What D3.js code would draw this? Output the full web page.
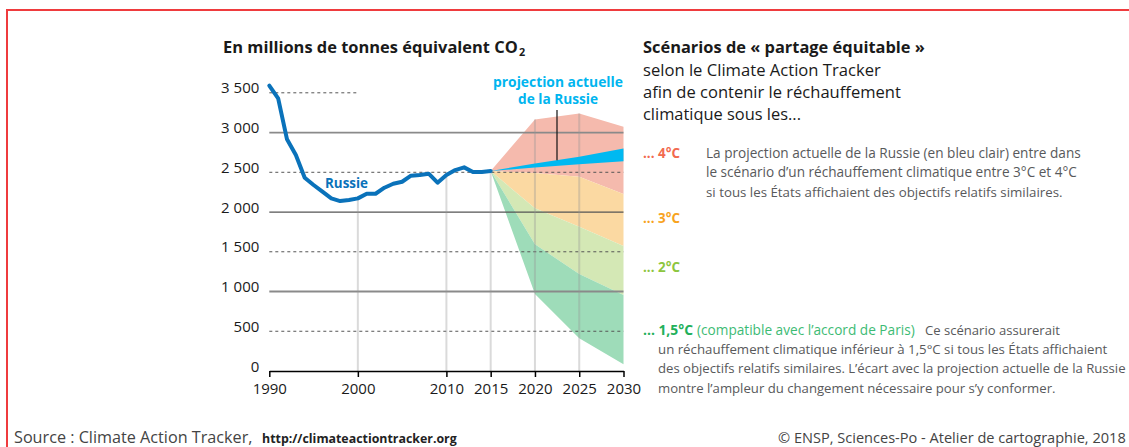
<!DOCTYPE html>
<html><head><meta charset="utf-8">
<script src="https://cdn.jsdelivr.net/npm/d3@7"></script>
<style>body{margin:0;background:#fff}svg{display:block}text{font-family:"Open Sans",sans-serif}</style>
</head><body>
<svg id="c" width="1129" height="447"></svg>
<script>
// ---- data ----
const histYears = [1990,1991,1992,1993,1994,1995,1996,1997,1998,1999,2000,2001,2002,2003,2004,2005,2006,2007,2008,2009,2010,2011,2012,2013,2014,2015];
const histValues = [3590,3430,2915,2717,2432,2340,2256,2172,2138,2151,2172,2230,2230,2306,2356,2381,2457,2465,2482,2369,2465,2528,2562,2503,2503,2516];
const projYears = [2015,2020,2025,2030];
const projLow  = [2516,2560,2600,2640];
const projHigh = [2516,2610,2695,2800];
const scen4Top   = [2516,3165,3241,3073];
const scen3Top   = [2516,2490,2444,2226];
const scen2Top   = [2516,2046,1815,1572];
const scen15Top  = [2516,1594,1220,956];
const scen15Bot  = [2516,969,411,84];
const yTicks = [0,500,1000,1500,2000,2500,3000,3500];
const solidGrid = [1000,2000,3000];
const xTicks = [1990,2000,2010,2015,2020,2025,2030];
const vLineYears = [2000,2010,2015,2020,2025];

const svg = d3.select('#c');
const x = d3.scaleLinear().domain([1990,2030]).range([269.3,623.5]);
const y = d3.scaleLinear().domain([0,3500]).range([371,92.8]);
const fr = d3.formatLocale({decimal:",",thousands:"\u00a0",grouping:[3],currency:["",""]});
const fmt = fr.format(",");

// red frame
svg.append('path').attr('d','M7,447 V10 H1129').attr('fill','none').attr('stroke','#ef3b3e').attr('stroke-width',2);

// scenario bands
const bands = [
  {top:scen4Top, bot:scen3Top, col:'#f5baad'},
  {top:scen3Top, bot:scen2Top, col:'#fbd9a2'},
  {top:scen2Top, bot:scen15Top, col:'#d4e8b5'},
  {top:scen15Top, bot:scen15Bot, col:'#9edcb9'}
];
bands.forEach(b=>{
  const area = d3.area().x((d,i)=>x(projYears[i])).y0((d,i)=>y(b.bot[i])).y1((d,i)=>y(b.top[i]));
  svg.append('path').datum(projYears).attr('d',area).attr('fill',b.col);
});

// horizontal grid
yTicks.filter(v=>v>0).forEach(v=>{
  const solid = solidGrid.includes(v);
  const x2 = v===3500 ? x(2000) : x(2030);
  svg.append('line').attr('x1',x(1990)).attr('x2',x2).attr('y1',y(v)).attr('y2',y(v))
    .attr('stroke', solid ? (v===2000 ? '#555' : '#8a8a8a') : '#555')
    .attr('stroke-width', solid ? (v===2000?1.2:1.8) : 1)
    .attr('stroke-dasharray', solid ? null : '3,3');
});

// vertical lines up to data
function valAt(yr){
  const hi = histYears.indexOf(yr);
  if (hi>=0) return histValues[hi];
  const pi = projYears.indexOf(yr);
  return scen4Top[pi];
}
vLineYears.forEach(yr=>{
  svg.append('line').attr('x1',x(yr)).attr('x2',x(yr)).attr('y1',y(0)).attr('y2',y(valAt(yr)))
    .attr('stroke','rgba(150,150,150,0.35)').attr('stroke-width',2);
});

// projection band
const parea = d3.area().x((d,i)=>x(projYears[i])).y0((d,i)=>y(projLow[i])).y1((d,i)=>y(projHigh[i]));
svg.append('path').datum(projYears).attr('d',parea).attr('fill','#00b9f1');

// history line
const line = d3.line().x((d,i)=>x(histYears[i])).y(d=>y(d));
svg.append('path').datum(histValues).attr('d',line).attr('fill','none')
  .attr('stroke','#0a72ba').attr('stroke-width',4).attr('stroke-linejoin','round').attr('stroke-linecap','round');

// axes
const xa = svg.append('g').attr('transform',`translate(0,${y(0)})`)
  .call(d3.axisBottom(x).tickValues(xTicks).tickFormat(d3.format('d')).tickSize(6).tickSizeOuter(0));
xa.select('.domain').attr('stroke','#000').attr('stroke-width',1.5);
xa.selectAll('.tick line').attr('stroke','#000').attr('stroke-width',1.5);
xa.selectAll('.tick text').attr('y',23).attr('dy',0).attr('font-size',15).attr('fill','#1a1a1a')
  .attr('font-family','"Open Sans",sans-serif');

const ya = svg.append('g').attr('transform',`translate(${x(1990)},0)`)
  .call(d3.axisLeft(y).tickValues(yTicks).tickFormat(fmt).tickSize(0).tickPadding(10));
ya.select('.domain').remove();
ya.selectAll('.tick text').attr('dy',0).attr('font-size',15).attr('fill','#1a1a1a')
  .attr('font-family','"Open Sans",sans-serif');

// text helper: font size is fitted so the natural width matches the target width
function txt(xp,yp,str,o){
  o=o||{};
  const t = svg.append('text').attr('x',xp).attr('y',yp).text(str)
    .attr('font-size',o.fs||14).attr('font-weight',o.b?700:400).attr('fill',o.c||'#1a1a1a')
    .attr('text-anchor',o.a||'start');
  if(o.w){
    const n = t.node().getComputedTextLength();
    const fs = (o.fs||14)*o.w/n;
    t.attr('font-size', Math.min(fs, (o.fs||14)*1.08));
  }
  return t;
}

// left title
txt(223,53,'En millions de tonnes équivalent CO',{fs:16,b:1,w:295});
txt(519,56,'2',{fs:10,b:1,w:7});

// labels in chart
txt(325,188,'Russie',{fs:14,b:1,c:'#0a72ba',w:43});
txt(558,87,'projection actuelle',{fs:14,b:1,c:'#00b5ef',a:'middle',w:130});
txt(558,104,'de la Russie',{fs:14,b:1,c:'#00b5ef',a:'middle',w:80});
// callout
const cx = 557;
const cyr = x.invert(cx);
const interp = d3.scaleLinear().domain(projYears).range(projHigh);
svg.append('line').attr('x1',cx).attr('x2',cx).attr('y1',110).attr('y2',y(interp(cyr))).attr('stroke','#111').attr('stroke-width',1.2);

// right panel
txt(643,53,'Scénarios de « partage équitable »',{fs:16,b:1,w:282});
txt(643,76,'selon le Climate Action Tracker',{fs:16,w:238});
txt(643,98,'afin de contenir le réchauffement',{fs:16,w:258});
txt(643,120,'climatique sous les...',{fs:16,w:158});

const grey = '#58595b';
txt(643,158,'... 4°C',{fs:14,b:1,c:'#f26a4f',w:37});
txt(706,158,'La projection actuelle de la Russie (en bleu clair) entre dans',{fs:14,c:grey,w:375});
txt(706,177.3,'le scénario d’un réchauffement climatique entre 3°C et 4°C',{fs:14,c:grey,w:371});
txt(706,196.6,'si tous les États affichaient des objectifs relatifs similaires.',{fs:14,c:grey,w:357});

txt(643,223,'... 3°C',{fs:14,b:1,c:'#f8a31e',w:37});
txt(643,271.5,'... 2°C',{fs:14,b:1,c:'#8dc63f',w:37});

txt(643,334.5,'... 1,5°C',{fs:14,b:1,c:'#22b05a',w:50});
txt(697,334.5,'(compatible avec l’accord de Paris)',{fs:14,c:'#3dbb74',w:218});
txt(925,334.5,'Ce scénario assurerait',{fs:14,c:grey,w:135});
txt(658,354,'un réchauffement climatique inférieur à 1,5°C si tous les États affichaient',{fs:14,c:grey,w:450});
txt(658,373.4,'des objectifs relatifs similaires. L’écart avec la projection actuelle de la Russie',{fs:14,c:grey,w:468});
txt(658,392.8,'montre l’ampleur du changement nécessaire pour s’y conformer.',{fs:14,c:grey,w:398});

// footer
txt(14,443,'Source : Climate Action Tracker,',{fs:15,c:'#444',w:240});
txt(262,443,'http://climateactiontracker.org',{fs:15,b:1,c:'#222',w:195});
txt(778,443,'© ENSP, Sciences-Po - Atelier de cartographie, 2018',{fs:15,c:'#444',w:348});
</script>
</body></html>
